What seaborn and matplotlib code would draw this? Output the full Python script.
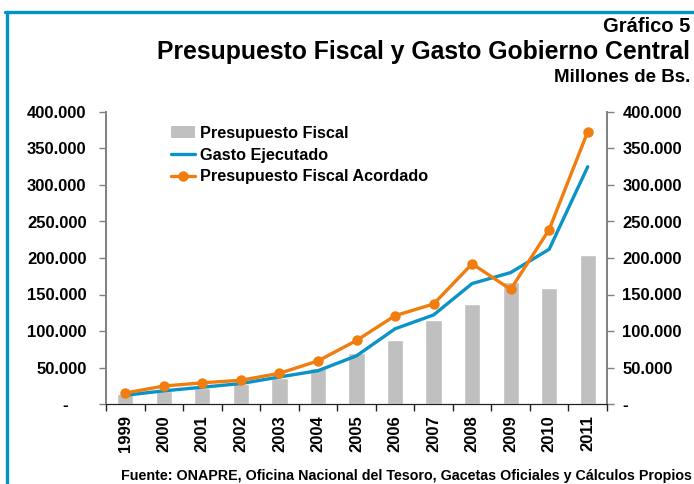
import matplotlib
matplotlib.use("Agg")
import matplotlib.pyplot as plt
import numpy as np
import pandas as pd
import seaborn as sns
from matplotlib.ticker import FuncFormatter, FixedLocator
from matplotlib.patches import Patch
from matplotlib.lines import Line2D

# data (millones de Bs.)
years = ["1999", "2000", "2001", "2002", "2003", "2004", "2005",
         "2006", "2007", "2008", "2009", "2010", "2011"]
presupuesto = [13700, 18000, 22000, 27000, 36000, 50000, 70000,
               88000, 115000, 137000, 167000, 159000, 204000]
gasto = [12000, 18000, 23000, 28000, 37000, 45600, 66000,
         103000, 122000, 165000, 180000, 212000, 325000]
acordado = [15000, 24600, 29000, 32500, 42000, 59000, 87000,
            121000, 137000, 192000, 157000, 239000, 373000]

GREY = "#c0c0c0"
BLUE = "#0a93c6"
ORANGE = "#f07d0e"
FRAME = "#0093c4"

sns.set_style("white")
plt.rcParams["font.family"] = ["Liberation Sans", "DejaVu Sans"]
plt.rcParams["font.weight"] = "bold"
plt.rcParams["text.color"] = "black"
plt.rcParams["xtick.color"] = "black"
plt.rcParams["ytick.color"] = "black"

df = pd.DataFrame({"year": years, "presupuesto": presupuesto,
                   "gasto": gasto, "acordado": acordado})
df["pos"] = np.arange(len(years))

fig = plt.figure(figsize=(6.94, 4.84), dpi=100)
ax = fig.add_axes([106 / 694, 1 - 404 / 484, 501 / 694, 292 / 484])

sns.barplot(data=df, x="year", y="presupuesto", color=GREY, width=0.42,
            saturation=1, ax=ax, zorder=1)
sns.lineplot(data=df, x="pos", y="gasto", color=BLUE, linewidth=2.4, ax=ax, zorder=2)
sns.lineplot(data=df, x="pos", y="acordado", color=ORANGE, linewidth=2.4,
             marker="o", markersize=7.5, markeredgewidth=0, ax=ax, zorder=3)

ax.set_xlim(-0.5, len(years) - 0.5)
ax.set_ylim(0, 400000)
ax.set_xlabel("")
ax.set_ylabel("")


def fmt(v, pos):
    if v == 0:
        return "-    "
    return f"{int(v):,}".replace(",", ".")


yt = np.arange(0, 400001, 50000)
ax.yaxis.set_major_locator(FixedLocator(yt))
ax.yaxis.set_major_formatter(FuncFormatter(fmt))
ax.tick_params(axis="y", direction="out", length=5, width=1, color="#808080",
               left=True, pad=9, labelsize=12)
ax.set_xticks(np.arange(len(years)))
ax.set_xticklabels(years, rotation=90, fontsize=12, fontweight="bold")
ax.xaxis.set_minor_locator(FixedLocator(np.arange(-0.5, len(years), 1)))
ax.tick_params(axis="x", which="major", length=0, pad=8)
ax.tick_params(axis="x", which="minor", direction="out", length=5, width=1,
               color="#202020", bottom=True)
for lab in ax.get_yticklabels():
    lab.set_fontweight("bold")

ax2 = ax.twinx()
ax2.set_ylim(0, 400000)
ax2.yaxis.set_major_locator(FixedLocator(yt))
ax2.yaxis.set_major_formatter(FuncFormatter(lambda v, p: "-" if v == 0 else fmt(v, p)))
ax2.tick_params(axis="y", direction="out", length=5, width=1, color="#808080",
                right=True, pad=6, labelsize=12)
for lab in ax2.get_yticklabels():
    lab.set_fontweight("bold")

for a in (ax, ax2):
    a.spines["top"].set_visible(False)
    a.spines["left"].set_color("#808080")
    a.spines["right"].set_color("#808080")
    a.spines["bottom"].set_color("#202020")
    a.spines["left"].set_linewidth(1.2)
    a.spines["right"].set_linewidth(1.2)

handles = [Patch(facecolor=GREY, edgecolor="none"),
           Line2D([], [], color=BLUE, linewidth=2.4),
           Line2D([], [], color=ORANGE, linewidth=2.4, marker="o",
                  markersize=7.5, markeredgewidth=0)]
labels = ["Presupuesto Fiscal", "Gasto Ejecutado", "Presupuesto Fiscal Acordado"]
ax.legend(handles, labels, loc="upper left", bbox_to_anchor=(0.117, 0.975),
          frameon=False, prop={"size": 11.7, "weight": "bold"},
          handlelength=1.5, handletextpad=0.3, labelspacing=0.42,
          borderaxespad=0)

# titles
fig.text(690 / 694, 1 - 26 / 484, "Gráfico 5", ha="right", va="center",
         fontsize=14.5, fontweight="bold")
fig.text(690 / 694, 1 - 52 / 484, "Presupuesto Fiscal y Gasto Gobierno Central",
         ha="right", va="center", fontsize=17.8, fontweight="bold")
fig.text(690 / 694, 1 - 77 / 484, "Millones de Bs.", ha="right", va="center",
         fontsize=13.5, fontweight="bold")
fig.text(692 / 694, 1 - 476 / 484,
         "Fuente: ONAPRE, Oficina Nacional del Tesoro, Gacetas Oficiales y Cálculos Propios",
         ha="right", va="center", fontsize=10.3, fontweight="bold")

# blue frame
fig.add_artist(Line2D([6.5 / 694, 6.5 / 694], [0, 1 - 11.5 / 484],
                      transform=fig.transFigure, color=FRAME, linewidth=2.4))
fig.add_artist(Line2D([5.3 / 694, 1], [1 - 11.5 / 484, 1 - 11.5 / 484],
                      transform=fig.transFigure, color=FRAME, linewidth=2.4))

fig.savefig("out.png", dpi=100)
